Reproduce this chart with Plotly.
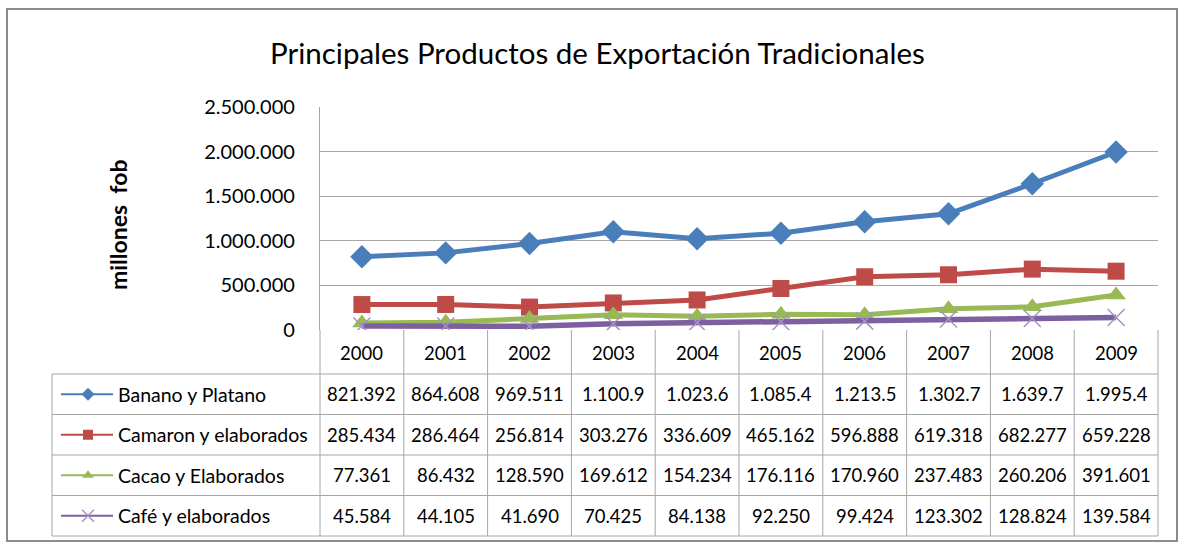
import plotly.graph_objects as go

# ---------------- data ----------------
years = ["2000", "2001", "2002", "2003", "2004", "2005", "2006", "2007", "2008", "2009"]
series_names = ["Banano y Platano", "Camaron y elaborados", "Cacao y Elaborados", "Café y elaborados"]
banano = [821392, 864608, 969511, 1100900, 1023600, 1085400, 1213500, 1302700, 1639700, 1995400]
camaron = [285434, 286464, 256814, 303276, 336609, 465162, 596888, 619318, 682277, 659228]
cacao = [77361, 86432, 128590, 169612, 154234, 176116, 170960, 237483, 260206, 391601]
cafe = [45584, 44105, 41690, 70425, 84138, 92250, 99424, 123302, 128824, 139584]
banano_lbl = ["821.392", "864.608", "969.511", "1.100.9", "1.023.6", "1.085.4", "1.213.5", "1.302.7", "1.639.7", "1.995.4"]
camaron_lbl = ["285.434", "286.464", "256.814", "303.276", "336.609", "465.162", "596.888", "619.318", "682.277", "659.228"]
cacao_lbl = ["77.361", "86.432", "128.590", "169.612", "154.234", "176.116", "170.960", "237.483", "260.206", "391.601"]
cafe_lbl = ["45.584", "44.105", "41.690", "70.425", "84.138", "92.250", "99.424", "123.302", "128.824", "139.584"]
y_ticks = [0, 500000, 1000000, 1500000, 2000000, 2500000]
title = "Principales Productos de Exportación Tradicionales"
y_title = "millones&nbsp;&nbsp;fob"

# ---------------- layout constants (pixels) ----------------
W, H = 1184, 546
PX0, PX1 = 320, 1158      # plot area left/right
PY_TOP, PY_BOT = 107, 330  # plot area top/bottom
TBL_X0 = 52
HDR_BOT = 374
ROW_H = 40.5
FONT = "Lato, 'Open Sans', sans-serif"
GRID = "#a6a6a6"

colors = ["#4a7ebb", "#be4b48", "#98b954", "#7d60a0"]
markers = [
    dict(symbol="diamond", size=18, color=colors[0]),
    dict(symbol="square", size=17, color=colors[1]),
    dict(symbol="triangle-up", size=17, color=colors[2]),
    dict(symbol="x-thin", size=17, color="#a493c8", line=dict(width=1.5, color="#a493c8")),
]
values = [banano, camaron, cacao, cafe]
labels = [banano_lbl, camaron_lbl, cacao_lbl, cafe_lbl]
widths = [5, 5, 5, 5.5]

fig = go.Figure()
for name, vals, c, m, w in zip(series_names, values, colors, markers, widths):
    fig.add_trace(go.Scatter(x=years, y=vals, mode="lines+markers", name=name,
                             line=dict(color=c, width=w), marker=m,
                             xaxis="x", yaxis="y", showlegend=False))

ncol = len(years)
colw = (PX1 - PX0) / ncol

# legend keys inside table (overlay axis in pixel coords)
for i, (c, m) in enumerate(zip(colors, markers)):
    yc = HDR_BOT + ROW_H * i + ROW_H / 2
    mk = dict(m)
    mk["size"] = 10 if m["symbol"] != "x-thin" else 12
    fig.add_trace(go.Scatter(x=[61, 88, 113], y=[yc, yc, yc], mode="lines+markers",
                             line=dict(color=c, width=2),
                             marker=mk,
                             selectedpoints=[1], unselected=dict(marker=dict(opacity=0)),
                             xaxis="x2", yaxis="y2", showlegend=False, hoverinfo="skip"))

shapes = []
annotations = []
line_style = dict(color=GRID, width=1)

# outer border
shapes.append(dict(type="rect", xref="x2", yref="y2", x0=7, x1=1177, y0=9, y1=541,
                   line=dict(color="#8c8c8c", width=2)))
# verticals
for k in range(ncol + 1):
    xx = PX0 + k * colw
    shapes.append(dict(type="line", xref="x2", yref="y2", x0=xx, x1=xx, y0=PY_BOT, y1=HDR_BOT + ROW_H * 4,
                       line=line_style))
shapes.append(dict(type="line", xref="x2", yref="y2", x0=TBL_X0, x1=TBL_X0, y0=HDR_BOT, y1=HDR_BOT + ROW_H * 4,
                   line=line_style))
for r in range(5):
    yy = HDR_BOT + r * ROW_H
    shapes.append(dict(type="line", xref="x2", yref="y2", x0=TBL_X0, x1=PX1, y0=yy, y1=yy, line=line_style))

# header years
for k, yr in enumerate(years):
    annotations.append(dict(x=PX0 + (k + 0.5) * colw, y=(PY_BOT + HDR_BOT) / 2 + 1, xref="x2", yref="y2",
                            text=yr, showarrow=False, font=dict(family=FONT, size=18.5, color="#000")))
# rows
for i, (name, lbls) in enumerate(zip(series_names, labels)):
    yc = HDR_BOT + ROW_H * i + ROW_H / 2
    annotations.append(dict(x=116, y=yc, xref="x2", yref="y2", text=name, xanchor="left",
                            showarrow=False, font=dict(family=FONT, size=19.5, color="#000")))
    for k, t in enumerate(lbls):
        annotations.append(dict(x=PX0 + (k + 0.5) * colw, y=yc, xref="x2", yref="y2", text=t,
                                showarrow=False, font=dict(family=FONT, size=18.5, color="#000")))

# title and y title
annotations.append(dict(x=597, y=52, xref="x2", yref="y2", text=title, showarrow=False,
                        font=dict(family=FONT, size=29.5, color="#000")))
annotations.append(dict(x=118, y=225, xref="x2", yref="y2", text="<b>" + y_title + "</b>", textangle=-90,
                        showarrow=False, font=dict(family=FONT, size=23, color="#000")))

fig.update_layout(
    template="none",
    width=W, height=H, autosize=False,
    margin=dict(l=0, r=0, t=0, b=0, pad=0, autoexpand=False),
    paper_bgcolor="white", plot_bgcolor="rgba(0,0,0,0)",
    separators=",.",
    xaxis=dict(domain=[PX0 / W, PX1 / W], type="category", range=[-0.5, ncol - 0.5],
               showticklabels=False, showgrid=False, zeroline=False, showline=False, ticks="",
               automargin=False, fixedrange=True),
    yaxis=dict(domain=[1 - PY_BOT / H, 1 - PY_TOP / H], range=[0, 2500000], tickvals=y_ticks,
               tickformat=",d", showgrid=True, gridcolor=GRID, gridwidth=1.3, zeroline=False,
               showline=True, linecolor=GRID, linewidth=1.3, mirror=False,
               tickfont=dict(family=FONT, size=20, color="#000"), ticks="", ticklabelstandoff=20,
               automargin=False, fixedrange=True),
    xaxis2=dict(domain=[0, 1], range=[0, W], visible=False, anchor="y2", automargin=False, fixedrange=True),
    yaxis2=dict(domain=[0, 1], range=[H, 0], visible=False, anchor="x2", automargin=False, fixedrange=True),
    shapes=shapes, annotations=annotations,
)

post = """
var st = document.createElement('style');
st.textContent = 'html,body{margin:0;padding:0;overflow:hidden;width:1184px;height:546px;}';
document.head.appendChild(st);
"""
fig.write_html("out.html", post_script=post, config={"displayModeBar": False, "responsive": False})
